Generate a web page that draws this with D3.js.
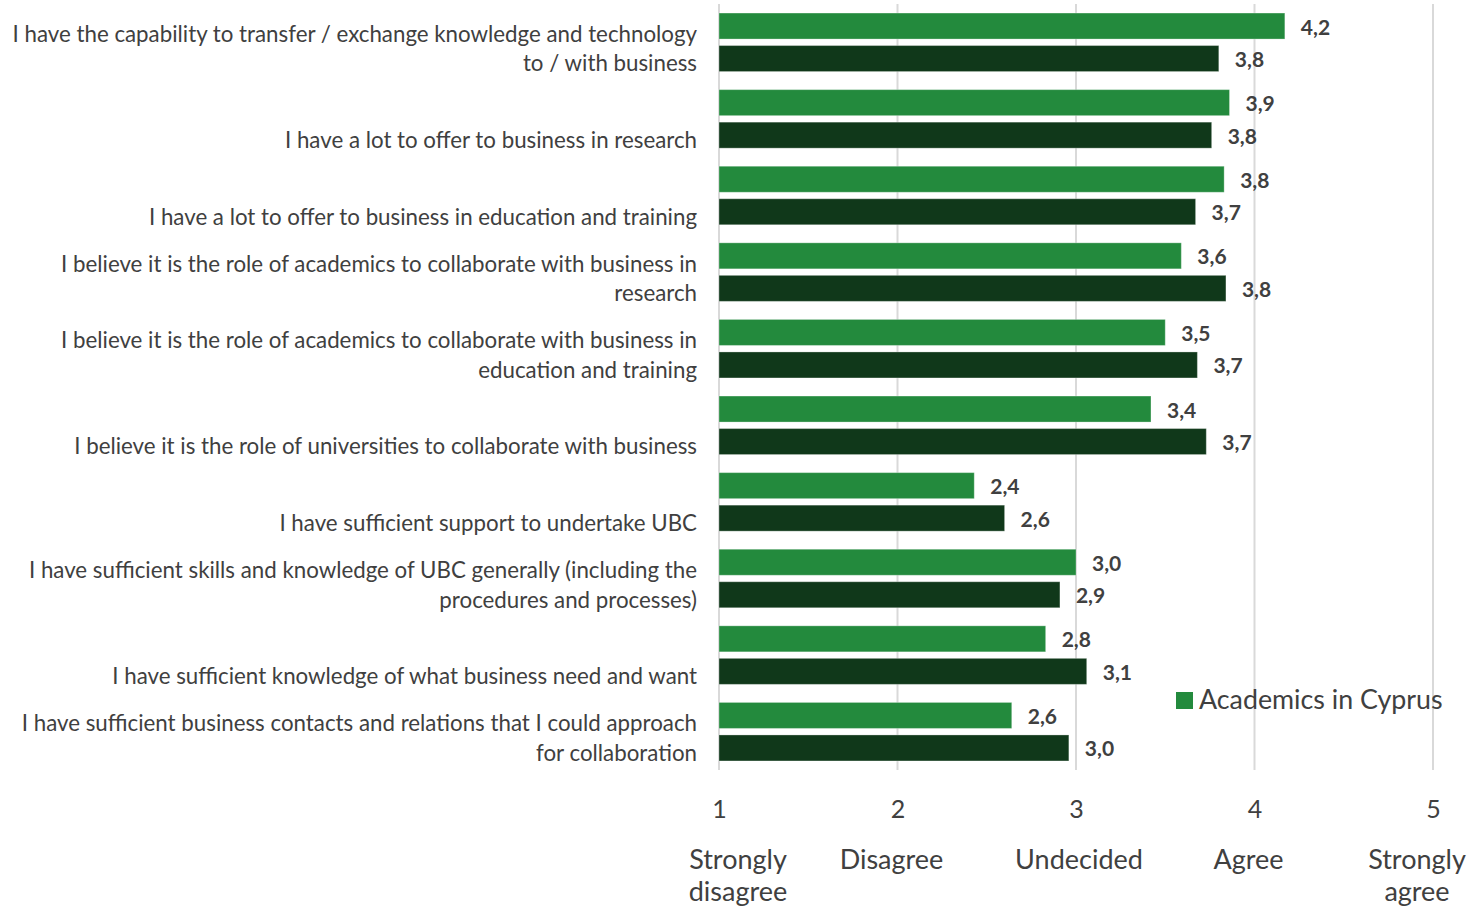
<!DOCTYPE html>
<html>
<head>
<meta charset="utf-8">
<script src="https://cdn.jsdelivr.net/npm/d3@7"></script>
<style>
  html, body { margin: 0; padding: 0; background: #ffffff; }
  svg { display: block; }
  text { font-family: Lato, "Open Sans", sans-serif; fill: #404040; }
</style>
</head>
<body>
<svg id="chart" width="1470" height="906"></svg>
<script>
// Survey statements (line breaks mark where the label wraps)
const categories = [
  "I have the capability to transfer / exchange knowledge and technology\nto / with business",
  "I have a lot to offer to business in research",
  "I have a lot to offer to business in education and training",
  "I believe it is the role of academics to collaborate with business in\nresearch",
  "I believe it is the role of academics to collaborate with business in\neducation and training",
  "I believe it is the role of universities to collaborate with business",
  "I have sufficient support to undertake UBC",
  "I have sufficient skills and knowledge of UBC generally (including the\nprocedures and processes)",
  "I have sufficient knowledge of what business need and want",
  "I have sufficient business contacts and relations that I could approach\nfor collaboration"
];

// Mean agreement scores (1–5 scale)
const cyprusValues = [4.17, 3.86, 3.83, 3.59, 3.50, 3.42, 2.43, 3.00, 2.83, 2.64];
const comparisonValues = [3.80, 3.76, 3.67, 3.84, 3.68, 3.73, 2.60, 2.91, 3.06, 2.96];

const seriesNames = ["Academics in Cyprus", "Academics (comparison)"];
const seriesColors = ["#238a3d", "#10381a"];

const tickValues = [1, 2, 3, 4, 5];
const tickLabels = ["Strongly\ndisagree", "Disagree", "Undecided", "Agree", "Strongly\nagree"];

const svg = d3.select("#chart");

const plotLeft = 719, plotRight = 1433, plotTop = 4, plotBottom = 770;

const x = d3.scaleLinear().domain([1, 5]).range([plotLeft, plotRight]);

const y0 = d3.scaleBand()
  .domain(d3.range(categories.length))
  .range([plotTop, plotBottom])
  .paddingInner(0.236)
  .paddingOuter(0.118);

const y1 = d3.scaleBand()
  .domain([0, 1])
  .range([0, y0.bandwidth()])
  .paddingInner(0.2);

// Vertical gridlines
svg.append("g")
  .selectAll("line")
  .data(tickValues)
  .join("line")
  .attr("x1", d => x(d)).attr("x2", d => x(d))
  .attr("y1", plotTop).attr("y2", plotBottom)
  .attr("stroke", "#d9d9d9")
  .attr("stroke-width", 2);

const rows = categories.map((c, i) => ({
  i,
  label: c,
  values: [cyprusValues[i], comparisonValues[i]]
}));

const fmt = v => d3.format(".1f")(v).replace(".", ",");

const group = svg.append("g")
  .selectAll("g")
  .data(rows)
  .join("g")
  .attr("transform", d => `translate(0,${y0(d.i)})`);

group.selectAll("rect")
  .data(d => d.values.map((v, s) => ({ v, s })))
  .join("rect")
  .attr("x", x(1))
  .attr("y", d => y1(d.s))
  .attr("width", d => x(d.v) - x(1))
  .attr("height", y1.bandwidth())
  .attr("fill", d => seriesColors[d.s])
  .attr("stroke", "rgba(255,255,255,0.3)")
  .attr("stroke-width", 1);

group.selectAll("text.value")
  .data(d => d.values.map((v, s) => ({ v, s })))
  .join("text")
  .attr("class", "value")
  .attr("x", d => x(d.v) + 16)
  .attr("y", d => y1(d.s) + y1.bandwidth() / 2)
  .attr("dominant-baseline", "central")
  .style("font-weight", "bold")
  .style("font-size", "21px")
  .text(d => fmt(d.v));

// Category labels, bottom-aligned against each group
const lineH = 29.5;
const catG = svg.append("g");
rows.forEach(r => {
  const lines = r.label.split("\n");
  const center = y0(r.i) + y0.bandwidth() / 2;
  const lastY = center + 20;
  const t = catG.append("text")
    .attr("text-anchor", "end")
    .attr("dominant-baseline", "central")
    .style("font-size", "22.3px");
  lines.forEach((ln, k) => {
    t.append("tspan")
      .attr("x", plotLeft - 22)
      .attr("y", lastY - (lines.length - 1 - k) * lineH)
      .text(ln);
  });
});

// X axis numbers
const axis = d3.axisBottom(x).tickValues(tickValues).tickSize(0).tickFormat(d3.format("d"));
const axG = svg.append("g")
  .attr("transform", `translate(0,${plotBottom})`)
  .call(axis);
axG.select(".domain").remove();
axG.selectAll("text")
  .attr("y", 38)
  .attr("dy", "0")
  .attr("dominant-baseline", "central")
  .style("font-size", "25px")
  .style("font-family", "Lato, 'Open Sans', sans-serif")
  .attr("fill", "#404040");

// Scale descriptions under the numbers, kept inside the page edges
const descShift = [19, -6, 3, -6, -16];
const descG = svg.append("g");
tickLabels.forEach((lbl, i) => {
  const t = descG.append("text")
    .attr("text-anchor", "middle")
    .attr("dominant-baseline", "central")
    .style("font-size", "27px");
  lbl.split("\n").forEach((ln, k) => {
    t.append("tspan")
      .attr("x", x(tickValues[i]) + descShift[i])
      .attr("y", 858 + k * 32)
      .text(ln);
  });
});

// Legend
const legend = svg.append("g").attr("transform", "translate(1176,692)");
legend.append("rect")
  .attr("width", 17).attr("height", 17)
  .attr("fill", seriesColors[0]);
legend.append("text")
  .attr("x", 23).attr("y", 7)
  .attr("dominant-baseline", "central")
  .style("font-size", "26.8px")
  .text(seriesNames[0]);
</script>
</body>
</html>
